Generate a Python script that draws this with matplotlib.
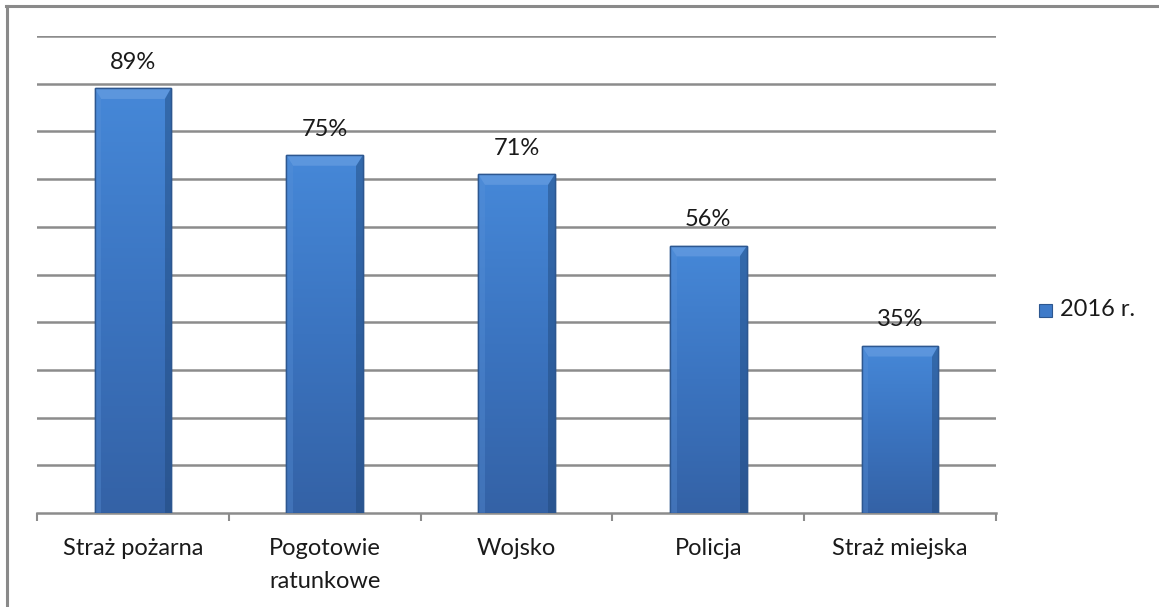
import numpy as np
import matplotlib.pyplot as plt
from matplotlib.patches import Rectangle
from matplotlib.colors import LinearSegmentedColormap

# Chart data
categories = ["Straż pożarna", "Pogotowie\nratunkowe", "Wojsko", "Policja", "Straż miejska"]
values = [89, 75, 71, 56, 35]
series_name = "2016 r."

plt.rcParams['font.family'] = ['Lato', 'DejaVu Sans']

W, H = 1159, 607
fig = plt.figure(figsize=(W / 100, H / 100), dpi=100)
# plot area in pixels: x 37..996, y 36..513
ax = fig.add_axes([37 / W, 1 - 513 / H, (996 - 37) / W, (513 - 36) / H])

# outer chart frame (only top and left edges visible)
fig.add_artist(plt.Line2D([6 / W, 1], [1 - 5.5 / H, 1 - 5.5 / H], color='#8a8a8a', lw=2.2))
fig.add_artist(plt.Line2D([6.5 / W, 6.5 / W], [0, 1 - 5.5 / H], color='#8a8a8a', lw=2.2))

x = np.arange(len(categories))
bar_w = 0.4
cmap = LinearSegmentedColormap.from_list('bar', ['#3462a6', '#3b74c0', '#4688d8'])

ax.set_xlim(-0.5, len(categories) - 0.5)
ax.set_ylim(0, 100)

for i, v in enumerate(values):
    left = x[i] - bar_w / 2
    rect = Rectangle((left, 0), bar_w, v, facecolor='#3f7bc9', edgecolor='#2d5790', lw=1.0, zorder=3)
    ax.add_patch(rect)
    grad = np.linspace(0, 1, 256).reshape(-1, 1)
    im = ax.imshow(grad, extent=(left, left + bar_w, 0, v), origin='lower', cmap=cmap,
                   aspect='auto', zorder=3.1)
    im.set_clip_path(rect)
    # bevel on top and sides
    ax.fill([left, left + bar_w, left + bar_w - 0.035, left + 0.035],
            [v, v, v - 2.2, v - 2.2], color='#6fa3e3', alpha=0.55, zorder=3.2, lw=0)
    ax.fill([left + bar_w, left + bar_w, left + bar_w - 0.035, left + bar_w - 0.035],
            [v, 0, 0, v - 2.2], color='#1f4677', alpha=0.45, zorder=3.2, lw=0)
    ax.fill([left, left, left + 0.035, left + 0.035],
            [v, 0, 0, v - 2.2], color='#5a92d8', alpha=0.35, zorder=3.2, lw=0)
    ax.add_patch(Rectangle((left, 0), bar_w, v, facecolor='none', edgecolor='#2d5790', lw=1.0, zorder=3.3))
    ax.text(x[i], v + 5.5, f"{v}%", ha='center', va='center', fontsize=17, color='#1a1a1a')

ax.set_yticks(np.arange(10, 101, 10))
ax.yaxis.grid(True, color='#8c8c8c', lw=1.8)
ax.set_axisbelow(True)
ax.tick_params(axis='y', left=False, labelleft=False)

ax.set_xticks(np.arange(-0.5, len(categories), 1))
ax.set_xticklabels([])
ax.set_xticks(x, minor=True)
ax.set_xticklabels(categories, minor=True, fontsize=17, color='#1a1a1a', va='top', linespacing=1.7)
ax.tick_params(axis='x', which='major', length=6, width=1.5, color='#8c8c8c', direction='out')
ax.tick_params(axis='x', which='minor', length=0, pad=18)

for s in ['top', 'right', 'left']:
    ax.spines[s].set_visible(False)
ax.spines['bottom'].set_color('#8c8c8c')
ax.spines['bottom'].set_linewidth(1.8)

# legend
fig.patches.append(Rectangle((1039 / W, 1 - 317 / H), 13 / W, 13 / H, transform=fig.transFigure,
                             facecolor='#3f7bc9', edgecolor='#2d5790', lw=0.8))
fig.text(1060 / W, 1 - 310 / H, series_name, fontsize=17, va='center', ha='left', color='#1a1a1a')

fig.savefig('out.png', dpi=100, facecolor='white')
